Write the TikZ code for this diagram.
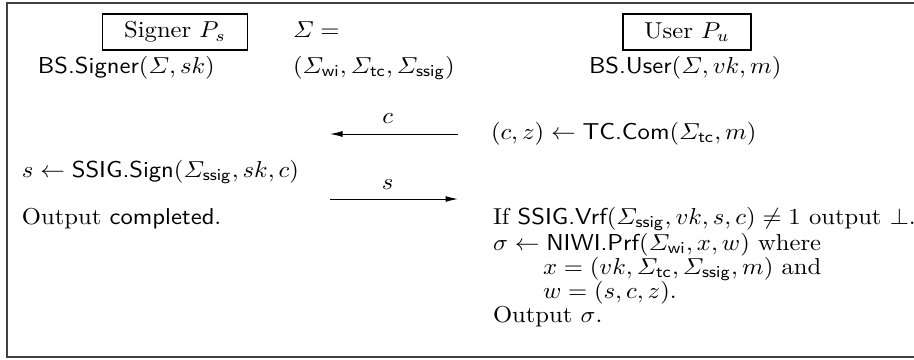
\documentclass[tikz,border=0pt]{standalone}
\usepackage{amsmath,amssymb,graphicx}
\usetikzlibrary{arrows.meta}
\newcommand{\vsq}[1]{\scalebox{0.985}[0.92]{#1}}
\begin{document}
\begin{tikzpicture}[x=0.4pt,y=-0.4pt,
  every node/.style={inner sep=0pt, outer sep=0pt},
  txt/.style={anchor=base west},
  party/.style={draw, line width=0.45pt, minimum height=14.4pt, anchor=center},
  msg/.style={-{Latex[length=5pt,width=2.4pt]}, line width=0.4pt}]
\useasboundingbox (0,0) rectangle (914,360);
\draw[line width=0.6pt, draw=black!75] (7,3) rectangle (930,357);
\node[party, minimum width=58pt] (signer) at (175,32) {\vsq{Signer $P_s$}};
\node[party, minimum width=51.2pt] (user) at (687,32) {\vsq{User $P_u$}};
\node[txt] (sig) at (293,38) {\vsq{$\varSigma =$}};
\node[txt] (bss) at (38,73) {\vsq{$\textsf{BS.Signer}(\varSigma, sk)$}};
\node[txt] (sigt) at (293,73) {\vsq{$(\varSigma_{\mathsf{wi}}, \varSigma_{\mathsf{tc}}, \varSigma_{\mathsf{ssig}})$}};
\node[txt] (bsu) at (589,73) {\vsq{$\textsf{BS.User}(\varSigma, vk, m)$}};
\coordinate (c1) at (458,134);
\coordinate (c0) at (330,134);
\draw[msg] (c1) -- node[pos=0.55, above=4pt] (cl) {\vsq{$c$}} (c0);
\node[txt] (com) at (491,139) {\vsq{$(c,z) \leftarrow \textsf{TC.Com}(\varSigma_{\mathsf{tc}}, m)$}};
\node[txt] (sign) at (22,177) {\vsq{$s \leftarrow \textsf{SSIG.Sign}(\varSigma_{\mathsf{ssig}}, sk, c)$}};
\coordinate (s0) at (330,199);
\coordinate (s1) at (458,199);
\draw[msg] (s0) -- node[pos=0.45, above=4pt] (sl) {\vsq{$s$}} (s1);
\node[txt] (outc) at (22,224) {\vsq{Output \textsf{completed}.}};
\node[txt] (vrf) at (493,224) {\vsq{If $\textsf{SSIG.Vrf}(\varSigma_{\mathsf{ssig}}, vk, s, c) \neq 1$ output $\bot$.}};
\node[txt] (prf) at (493,250) {\vsq{$\sigma \leftarrow \textsf{NIWI.Prf}(\varSigma_{\mathsf{wi}}, x, w)$ where}};
\node[txt] (xdef) at (543,274) {\vsq{$x = (vk, \varSigma_{\mathsf{tc}}, \varSigma_{\mathsf{ssig}}, m)$ and}};
\node[txt] (wdef) at (543,298) {\vsq{$w = (s, c, z)$.}};
\node[txt] (outs) at (493,322) {\vsq{Output $\sigma$.}};
\end{tikzpicture}
\end{document}
